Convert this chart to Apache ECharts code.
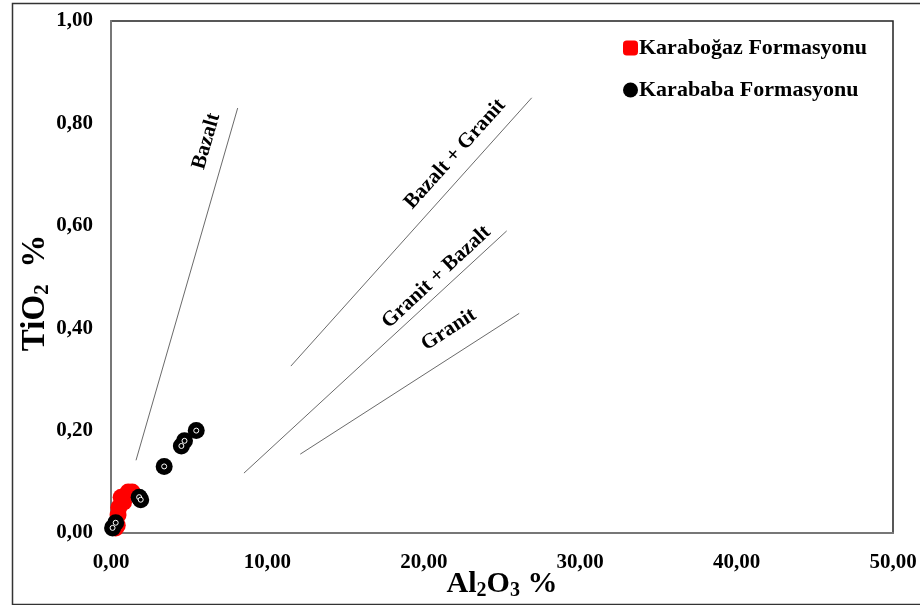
<!DOCTYPE html>
<html>
<head>
<meta charset="utf-8">
<script src="https://cdn.jsdelivr.net/npm/echarts@6/dist/echarts.min.js"></script>
<style>html,body{margin:0;padding:0;background:#fff}#c{width:920px;height:605px}</style>
</head>
<body>
<div id="c"></div>
<script>
// ---- data ----
var karabogazAl = [0.3, 0.4, 0.45, 0.5, 0.65, 0.8, 1.1, 1.35];
var karabogazTi = [0.01, 0.015, 0.035, 0.05, 0.07, 0.06, 0.08, 0.08];
var karababaAl = [0.1, 0.3, 1.8, 1.9, 3.4, 4.5, 4.7, 5.45];
var karababaTi = [0.01, 0.02, 0.07, 0.065, 0.13, 0.17, 0.18, 0.20];
var xTicks = [0, 10, 20, 30, 40, 50];
var yTicks = [0, 0.2, 0.4, 0.6, 0.8, 1.0];
var lineNames = ['Bazalt', 'Bazalt + Granit', 'Granit + Bazalt', 'Granit'];
var lineStartX = [1.6, 11.5, 8.5, 12.1];
var lineStartY = [0.142, 0.326, 0.117, 0.154];
var lineEndX = [8.1, 26.9, 25.3, 26.1];
var lineEndY = [0.83, 0.85, 0.59, 0.429];
var labelX = [6.1, 22.0, 20.8, 21.6];
var labelY = [0.765, 0.74, 0.50, 0.397];
var labelAngle = [74, 48, 43, 33];

var serif = '"Liberation Serif", "Times New Roman", serif';
function fmt(v){ return v.toFixed(2).replace('.', ','); }
function pairs(a, b){ return a.map(function(v,i){ return [v, b[i]]; }); }

var series = [];
lineNames.forEach(function(n, i){
  series.push({
    type: 'line', silent: true, symbol: 'none', z: 1,
    data: [[lineStartX[i], lineStartY[i]], [lineEndX[i], lineEndY[i]]],
    lineStyle: { color: '#444', width: 0.8 }
  });
  series.push({
    type: 'scatter', silent: true, symbolSize: 1, z: 2,
    data: [[labelX[i], labelY[i]]],
    itemStyle: { color: 'rgba(0,0,0,0)', opacity: 1 },
    label: { show: true, position: 'inside', formatter: n, rotate: labelAngle[i],
      fontFamily: serif, fontWeight: 'bold', fontSize: 21, color: '#000',
      textBorderWidth: 0, opacity: 1 }
  });
});
series.push({
  name: 'Karaboğaz Formasyonu', type: 'scatter', z: 3,
  data: pairs(karabogazAl, karabogazTi), symbol: 'circle', symbolSize: 17,
  itemStyle: { color: '#ff0000', opacity: 1 }
});
series.push({
  name: 'Karababa Formasyonu', type: 'scatter', z: 4,
  data: pairs(karababaAl, karababaTi), symbol: 'circle', symbolSize: 17,
  itemStyle: { color: '#000', opacity: 1 }
});
series.push({
  type: 'scatter', z: 5, silent: true,
  data: pairs(karababaAl, karababaTi), symbol: 'circle', symbolSize: 5,
  itemStyle: { color: '#000', borderColor: '#fff', borderWidth: 1, opacity: 1 }
});

var chart = echarts.init(document.getElementById('c'));
chart.setOption({
  animation: false,
  backgroundColor: '#fff',
  graphic: [{ type: 'rect', left: 10, top: 1, shape: { width: 930, height: 601 },
    style: { fill: 'none', stroke: '#333', lineWidth: 1.5 }, z: 0 }],
  grid: { left: 111, right: 27, top: 21, bottom: 72, show: true, borderColor: '#222', borderWidth: 1.5,
    containLabel: false, outerBoundsMode: 'none' },
  legend: {
    orient: 'vertical', left: 618, top: 32, itemGap: 20, itemWidth: 15, itemHeight: 15,
    textStyle: { fontFamily: serif, fontWeight: 'bold', fontSize: 22, color: '#000', padding: [0,0,0,-4] },
    data: [{ name: 'Karaboğaz Formasyonu', icon: 'roundRect' }, { name: 'Karababa Formasyonu', icon: 'circle' }]
  },
  xAxis: {
    type: 'value', min: xTicks[0], max: xTicks[xTicks.length-1], interval: 10,
    axisLine: { lineStyle: { color: '#777', width: 2 } }, axisTick: { show: false },
    splitLine: { show: false },
    axisLabel: { formatter: fmt, fontFamily: serif, fontWeight: 'bold', fontSize: 21, color: '#000', margin: 19 },
    name: '{a|Al}{s|2}{a|O}{s|3}{a| %}', nameLocation: 'middle', nameGap: 34, nameMoveOverlap: false,
    nameTextStyle: { rich: {
      a: { fontFamily: serif, fontWeight: 'bold', fontSize: 30, color: '#000' },
      s: { fontFamily: serif, fontWeight: 'bold', fontSize: 20, color: '#000', padding: [14,0,0,0] } } }
  },
  yAxis: {
    type: 'value', min: yTicks[0], max: yTicks[yTicks.length-1], interval: 0.2,
    axisLine: { lineStyle: { color: '#777', width: 2 } }, axisTick: { show: false },
    splitLine: { show: false },
    axisLabel: { formatter: fmt, fontFamily: serif, fontWeight: 'bold', fontSize: 21, color: '#000', margin: 18 },
    name: '{a|TiO}{s|2}{a|  %}', nameLocation: 'middle', nameGap: 58, nameRotate: 90, nameMoveOverlap: false,
    nameTextStyle: { padding: [0, 32, 0, 0], rich: {
      a: { fontFamily: serif, fontWeight: 'bold', fontSize: 33, color: '#000' },
      s: { fontFamily: serif, fontWeight: 'bold', fontSize: 21, color: '#000', padding: [15,0,0,0] } } }
  },
  series: series
});
</script>
</body>
</html>
